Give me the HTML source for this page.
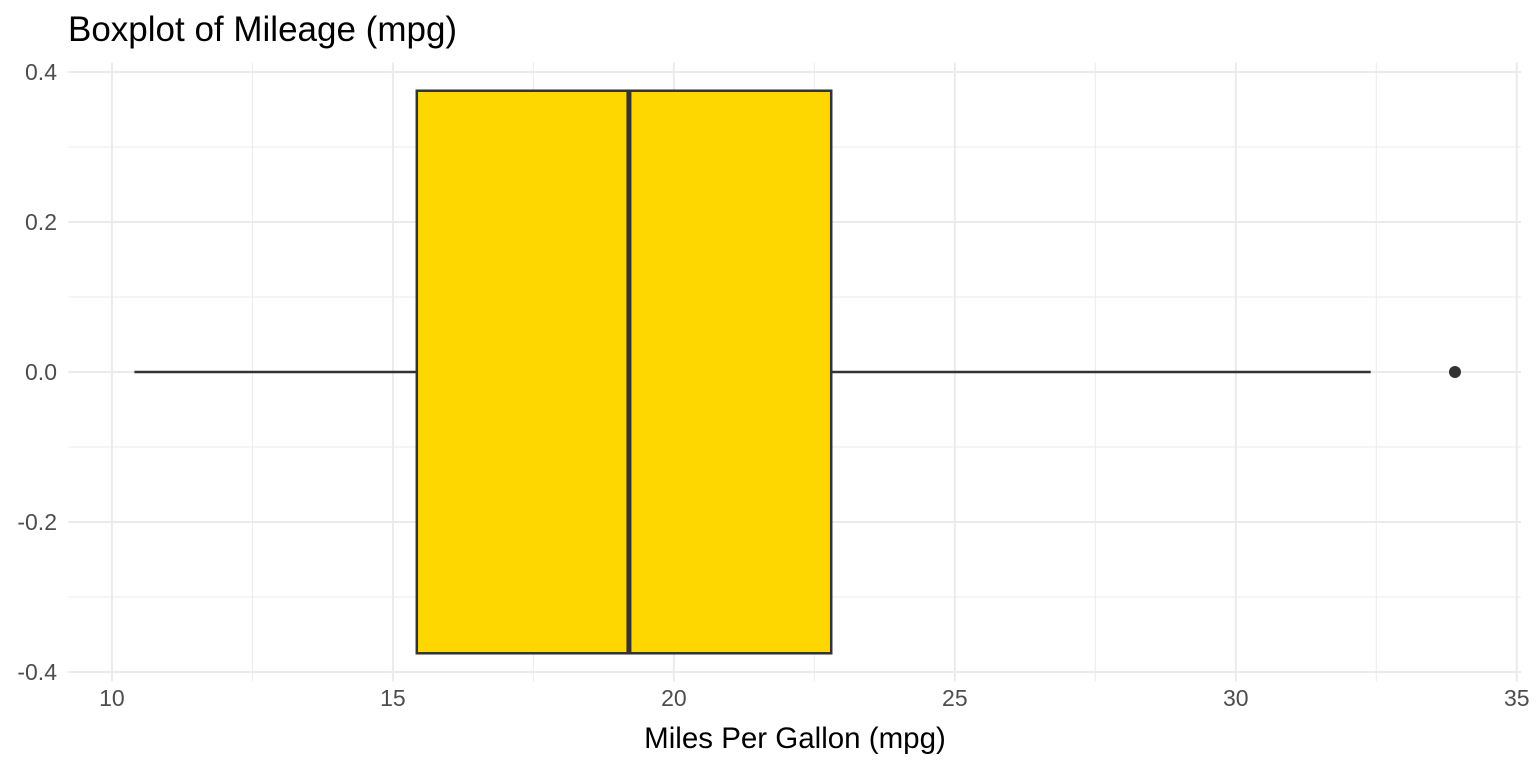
<!DOCTYPE html>
<html><head><meta charset="utf-8"><style>
body{margin:0;background:#fff;}
svg{display:block;font-family:"Liberation Sans",Arial,sans-serif;}
</style></head><body>
<svg id="chart" width="1536" height="768" xmlns="http://www.w3.org/2000/svg">
<text x="68" y="41" font-size="35" fill="#000">Boxplot of Mileage (mpg)</text>
<text x="795" y="748" font-size="29.5" fill="#000" text-anchor="middle">Miles Per Gallon (mpg)</text>
<g id="grid"></g><g id="marks"></g><g id="labels"></g>
</svg>
<script>
const xTicks=[10,15,20,25,30,35];
const xMinor=[12.5,17.5,22.5,27.5,32.5];
const yTicks=[0.4,0.2,0,-0.2,-0.4];
const yTickLabels=["0.4","0.2","0.0","-0.2","-0.4"];
const yMinor=[0.3,0.1,-0.1,-0.3];
const boxStats=[10.4,15.425,19.2,22.8,32.4];
const outliers=[33.9];
const boxHalfWidth=[0.375];
const NS="http://www.w3.org/2000/svg";
const X0=9.225,X1=35.075,Y0=-0.4125,Y1=0.4125;
const PL=68.4,PR=1521,PT=62.6,PB=681.4;
const sx=v=>PL+(v-X0)/(X1-X0)*(PR-PL);
const sy=v=>PB-(v-Y0)/(Y1-Y0)*(PB-PT);
function mk(tag,attrs,parent){const e=document.createElementNS(NS,tag);for(const k in attrs)e.setAttribute(k,attrs[k]);document.getElementById(parent).appendChild(e);return e;}
xMinor.forEach(v=>{const l=mk('line',{x1:sx(v),x2:sx(v),y1:PT,y2:PB,stroke:'#ebebeb','stroke-width':1},'grid');

});
yMinor.forEach(v=>{const l=mk('line',{x1:PL,x2:PR,y1:sy(v),y2:sy(v),stroke:'#ebebeb','stroke-width':1},'grid');

});
xTicks.forEach(v=>{const l=mk('line',{x1:sx(v),x2:sx(v),y1:PT,y2:PB,stroke:'#ebebeb','stroke-width':2},'grid');


const t=mk('text',{x:sx(v),y:706,'font-size':23,fill:'#4d4d4d','text-anchor':'middle'},'labels');t.textContent=v;

});
yTicks.forEach((v,i)=>{const l=mk('line',{x1:PL,x2:PR,y1:sy(v),y2:sy(v),stroke:'#ebebeb','stroke-width':2},'grid');


const t=mk('text',{x:57,y:sy(v)+8,'font-size':23,fill:'#4d4d4d','text-anchor':'end'},'labels');t.textContent=yTickLabels[i];

});
const c='#333333';
const w1=mk('line',{x1:sx(boxStats[0]),x2:sx(boxStats[1]),y1:sy(0),y2:sy(0),stroke:c,'stroke-width':2.5},'marks');


const w2=mk('line',{x1:sx(boxStats[3]),x2:sx(boxStats[4]),y1:sy(0),y2:sy(0),stroke:c,'stroke-width':2.5},'marks');


const bx=mk('rect',{x:sx(boxStats[1]),y:sy(boxHalfWidth[0]),width:sx(boxStats[3])-sx(boxStats[1]),height:sy(-boxHalfWidth[0])-sy(boxHalfWidth[0]),fill:'#ffd700',stroke:c,'stroke-width':2.5},'marks');


const md=mk('line',{x1:sx(boxStats[2]),x2:sx(boxStats[2]),y1:sy(boxHalfWidth[0]),y2:sy(-boxHalfWidth[0]),stroke:c,'stroke-width':5},'marks');


outliers.forEach(v=>{const p=mk('circle',{cx:sx(v),cy:sy(0),r:6,fill:c},'marks');

});
</script>
</body></html>
